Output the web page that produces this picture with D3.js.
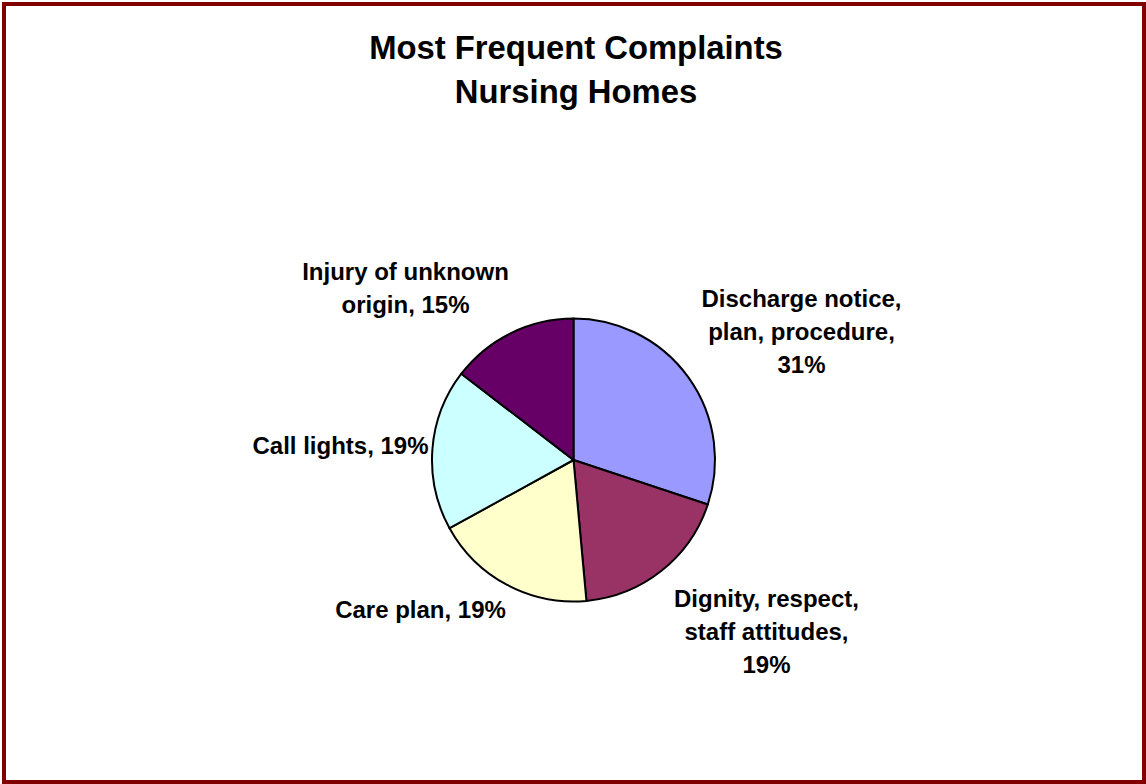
<!DOCTYPE html>
<html>
<head>
<meta charset="utf-8">
<script src="https://cdn.jsdelivr.net/npm/d3@7"></script>
<style>
  html, body { margin: 0; padding: 0; background: #fff; }
  svg { display: block; }
  text { font-family: "Liberation Sans", Arial, sans-serif; font-weight: bold; fill: #000; }
</style>
</head>
<body>
<svg id="chart" width="1146" height="784"></svg>
<script>
// Complaint categories, clockwise from 12 o'clock
const categories = [
  "Discharge notice, plan, procedure",
  "Dignity, respect, staff attitudes",
  "Care plan",
  "Call lights",
  "Injury of unknown origin"
];
// Share of complaints (percent)
const shares = [31, 19, 19, 19, 15];
// Label text, one entry per line
const labelLines = [
  ["Discharge notice,", "plan, procedure,", "31%"],
  ["Dignity, respect,", "staff attitudes,", "19%"],
  ["Care plan, 19%"],
  ["Call lights, 19%"],
  ["Injury of unknown", "origin, 15%"]
];
const sliceColors = ["#9999FF", "#993366", "#FFFFCC", "#CCFFFF", "#660066"];
const titleLines = ["Most Frequent Complaints", "Nursing Homes"];

const W = 1146, H = 784;
const cx = 573.5, cy = 460, radius = 141.5;

const svg = d3.select("#chart");

// Frame
svg.append("rect")
  .attr("x", 4).attr("y", 4)
  .attr("width", W - 6).attr("height", H - 6)
  .attr("fill", "#fff")
  .attr("stroke", "#800000")
  .attr("stroke-width", 4);

// Title
svg.append("text")
  .attr("text-anchor", "middle")
  .attr("font-size", 32.8)
  .selectAll("tspan")
  .data(titleLines)
  .join("tspan")
  .attr("x", 576)
  .attr("y", (d, i) => 59 + i * 44)
  .text(d => d);

const data = categories.map((c, i) => ({ category: c, value: shares[i], lines: labelLines[i], color: sliceColors[i] }));

const pie = d3.pie().sort(null).value(d => d.value);
const arc = d3.arc().innerRadius(0).outerRadius(radius);
const arcs = pie(data);

const g = svg.append("g").attr("transform", `translate(${cx},${cy})`);

g.selectAll("path")
  .data(arcs)
  .join("path")
  .attr("d", arc)
  .attr("fill", d => d.data.color)
  .attr("stroke", "#000")
  .attr("stroke-width", 2)
  .attr("stroke-linejoin", "round");

// Label anchors (centre of first baseline) relative to the pie centre
const labelOffsets = [
  [228, -153],
  [193, 147],
  [-153, 158],
  [-233, -6],
  [-168, -180]
];
const lineGap = 33;

const labels = svg.append("g");
arcs.forEach((a, i) => {
  const [ox, oy] = labelOffsets[i];
  labels.append("text")
    .attr("text-anchor", "middle")
    .attr("font-size", 24)
    .selectAll("tspan")
    .data(a.data.lines)
    .join("tspan")
    .attr("x", cx + ox)
    .attr("y", (d, j) => cy + oy + j * lineGap)
    .text(d => d);
});
</script>
</body>
</html>
